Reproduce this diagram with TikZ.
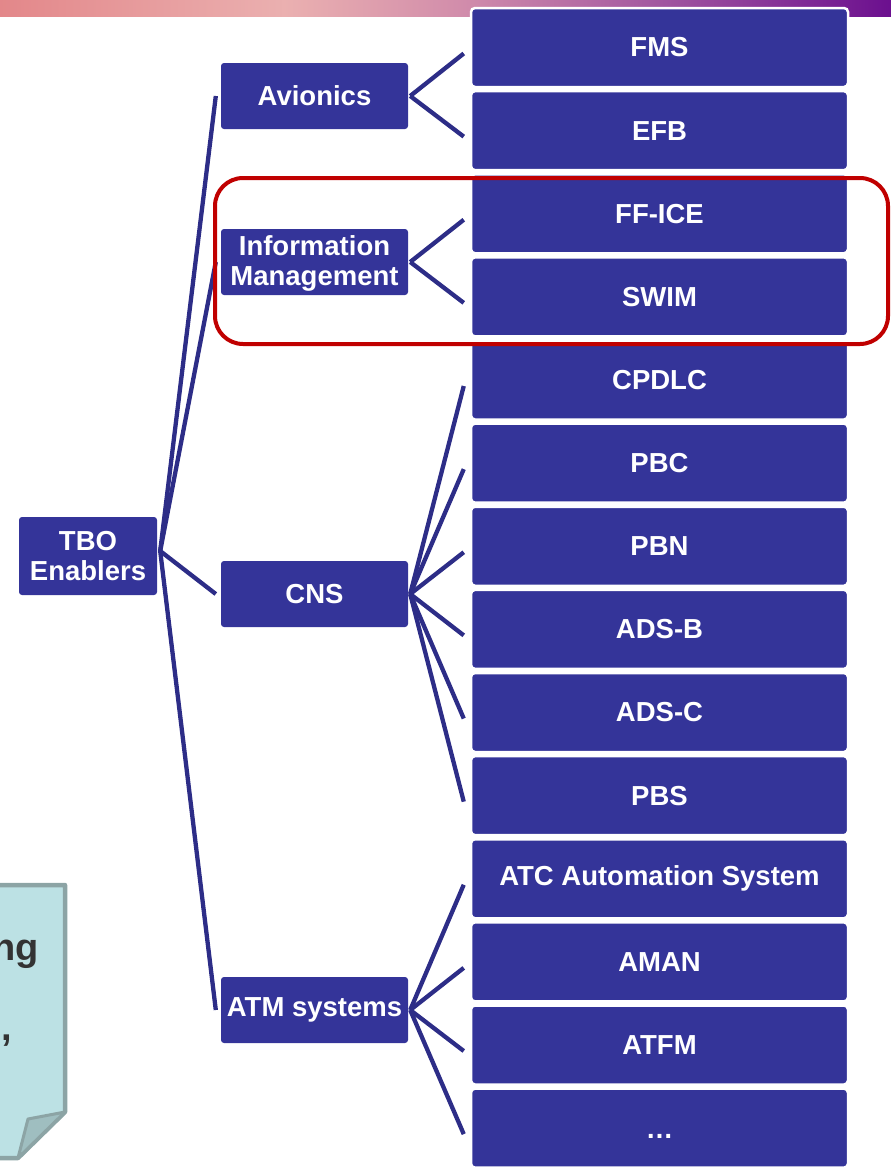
\documentclass[tikz,border=0pt]{standalone}
\usepackage{fontspec}
\setmainfont{Liberation Sans}
\usetikzlibrary{calc}
\definecolor{boxblue}{HTML}{343499}
\definecolor{linkblue}{HTML}{2D2D87}
\definecolor{redframe}{HTML}{C00000}
\definecolor{notefill}{HTML}{BCE1E4}
\definecolor{noteedge}{HTML}{8CA4A5}
\definecolor{noteflap}{HTML}{9FBEC0}
\definecolor{notetext}{HTML}{333333}
\pgfdeclarehorizontalshading{topbar}{100bp}{rgb(0bp)=(0.89,0.53,0.54); rgb(25bp)=(0.89,0.53,0.54); rgb(41bp)=(0.92,0.69,0.69); rgb(51bp)=(0.82,0.55,0.67); rgb(63bp)=(0.62,0.32,0.62); rgb(75bp)=(0.42,0.06,0.56); rgb(100bp)=(0.42,0.06,0.56)}
\begin{document}
\begin{tikzpicture}[x=1pt,y=-1pt,
  txt/.style={font=\fontsize{27.5}{30.5}\selectfont\bfseries, text=white, align=center, inner sep=0pt},
  leafbox/.style={txt, fill=boxblue, draw=white, line width=2.5pt, rounded corners=4pt, minimum width=377pt, minimum height=79pt},
  midbox/.style={txt, fill=boxblue, rounded corners=3pt, minimum width=187pt, minimum height=66pt},
  link/.style={draw=linkblue, line width=4.3pt},
  notetxt/.style={font=\fontsize{38}{40}\selectfont\bfseries, text=notetext, inner sep=0pt}]
\useasboundingbox (0,0) rectangle (891,1167);
% top gradient bar
\shade[shading=topbar] (0,0) rectangle (891,16);
% sticky note at lower left
\draw[fill=notefill, draw=noteedge, line width=4.5pt, line join=round] (-10,885) -- (65,885) -- (65,1112) -- (18,1158) -- (-10,1158) -- cycle;
\draw[fill=noteflap, draw=noteedge, line width=3pt, line join=round] (65,1112) -- (28,1119) -- (18,1158) -- cycle;
\node[notetxt, anchor=base east] (ng) at (39,960) {ng};
\node[notetxt, anchor=base west] (comma) at (1,1040) {,};
% root
\node[midbox, minimum width=138pt, minimum height=78pt] (tbo) at (88,556) {TBO\\Enablers};
% middle level
\node[midbox] (avionics) at (314.5,96) {Avionics};
\node[midbox] (infomgmt) at (314.5,262) {\raisebox{-2.5pt}[\height][\depth]{\begin{tabular}{@{}c@{}}Information\\Management\end{tabular}}};
\node[midbox] (cns) at (314.5,594) {CNS};
\node[midbox] (atm) at (314.5,1010) {ATM systems};
% leaves
\foreach \name/\label [count=\i from 0] in {fms/FMS, efb/EFB, ffice/FF-ICE, swim/SWIM, cpdlc/CPDLC, pbc/PBC, pbn/PBN, adsb/ADS-B, adsc/ADS-C, pbs/PBS, atc/ATC Automation System, aman/AMAN, atfm/ATFM, more/\raisebox{-8pt}[\height][\depth]{\ldots}}
  \node[leafbox] (\name) at (659.5,{47.5+83.125*\i}) {\label};
% connectors root -> middle
\foreach \m in {avionics, infomgmt, cns, atm}
  \draw[link] ([xshift=3pt,yshift=5pt]tbo.east) -- ([xshift=-5pt]\m.west);
% connectors middle -> leaves
\foreach \l in {fms, efb}
  \draw[link] ([xshift=2pt]avionics.east) -- ([xshift=-6pt,yshift=-6pt]\l.west);
\foreach \l in {ffice, swim}
  \draw[link] ([xshift=2pt]infomgmt.east) -- ([xshift=-6pt,yshift=-6pt]\l.west);
\foreach \l in {cpdlc, pbc, pbn, adsb, adsc, pbs}
  \draw[link] ([xshift=2pt]cns.east) -- ([xshift=-6pt,yshift=-6pt]\l.west);
\foreach \l in {atc, aman, atfm, more}
  \draw[link] ([xshift=2pt]atm.east) -- ([xshift=-6pt,yshift=-6pt]\l.west);
% highlight frame
\draw[redframe, line width=4pt, rounded corners=28pt] (215,178) rectangle (888,344);
\end{tikzpicture}
\end{document}
